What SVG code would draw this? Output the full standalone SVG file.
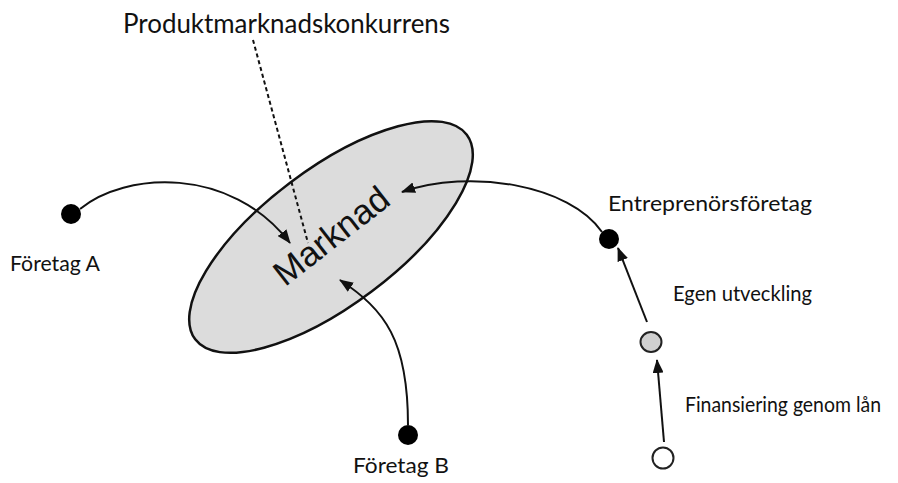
<svg xmlns="http://www.w3.org/2000/svg" width="898" height="483" viewBox="0 0 898 483">
<style>
.lbl{font-family:Lato,"Open Sans",sans-serif;font-size:21px;fill:#111}
.title{font-family:Lato,"Open Sans",sans-serif;font-size:27px;fill:#111}
.con{fill:none;stroke:#111;stroke-width:2}
.dot{fill:#000}
</style>
<defs>
<marker id="ah" viewBox="0 0 14 11" refX="13" refY="5.5" markerWidth="14" markerHeight="11" markerUnits="userSpaceOnUse" orient="auto">
<path d="M0,0 L14,5.5 L0,11 Z" fill="#111"/>
</marker>
</defs>
<rect width="898" height="483" fill="#fff"/>
<g id="marknad">
<ellipse cx="331" cy="237" rx="170" ry="68" transform="rotate(-37 331 237)" fill="#dcdcdc" stroke="#111" stroke-width="2.5"/>
<text x="333" y="238" transform="rotate(-38 333 238)" text-anchor="middle" dominant-baseline="middle" font-family="Liberation Sans, Arial, sans-serif" font-size="35" fill="#111">Marknad</text>
</g>
<g id="produktmarknadskonkurrens">
<text class="title" x="123" y="33" textLength="327" lengthAdjust="spacingAndGlyphs">Produktmarknadskonkurrens</text>
</g>
<g id="foretagA">
<circle class="dot" cx="71" cy="214" r="10"/>
<text class="lbl" x="10" y="271" textLength="90" lengthAdjust="spacingAndGlyphs">Företag A</text>
</g>
<g id="foretagB">
<circle class="dot" cx="408" cy="435" r="10"/>
<text class="lbl" x="353" y="473" textLength="96" lengthAdjust="spacingAndGlyphs">Företag B</text>
</g>
<g id="entreprenorsforetag">
<circle class="dot" cx="609" cy="239" r="10"/>
<text class="lbl" x="608" y="211" textLength="204" lengthAdjust="spacingAndGlyphs">Entreprenörsföretag</text>
</g>
<g id="egen">
<ellipse cx="651" cy="342" rx="10.5" ry="10" fill="#d0d0d0" stroke="#222" stroke-width="2"/>
<text class="lbl" x="673" y="301" textLength="139" lengthAdjust="spacingAndGlyphs">Egen utveckling</text>
</g>
<g id="finansiering">
<ellipse cx="663" cy="458" rx="10.5" ry="10.5" fill="#fff" stroke="#222" stroke-width="2"/>
<text class="lbl" x="685" y="412" font-size="20" textLength="196" lengthAdjust="spacingAndGlyphs">Finansiering genom lån</text>
</g>
<g id="connectors">
<path class="con" d="M253,40 L308,243" stroke-dasharray="4,3"/>
<path class="con" d="M80,209 C125,172 230,165 290,243" marker-end="url(#ah)"/>
<path class="con" d="M408,425 C408,340 385,310 340,280" marker-end="url(#ah)"/>
<path class="con" d="M602,232 C570,185 470,168 402,192" marker-end="url(#ah)"/>
<path class="con" d="M647,322 L618,248" marker-end="url(#ah)"/>
<path class="con" d="M664,442 L657,360" marker-end="url(#ah)"/>
</g>
</svg>
